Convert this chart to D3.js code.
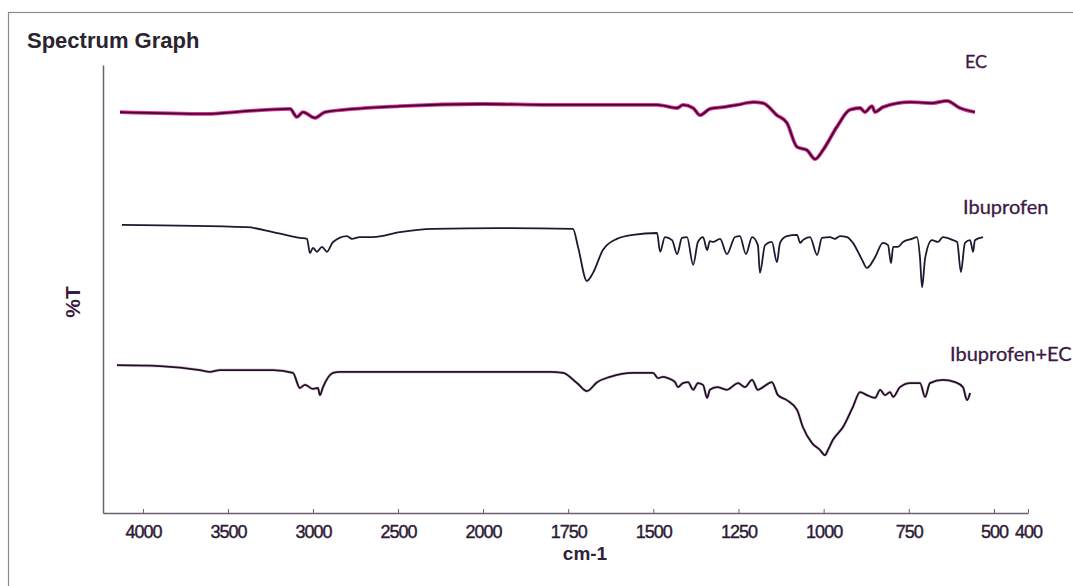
<!DOCTYPE html>
<html>
<head>
<meta charset="utf-8">
<script src="https://cdn.jsdelivr.net/npm/d3@7"></script>
<style>
  body { margin: 0; background: #ffffff; }
  svg { display: block; }
</style>
</head>
<body>
<div id="spectrum-chart"></div>
<script>
// wavenumber (cm-1) / %T values (traces are stacked, so %T is offset)
const ecData = [
  [4135, 89.5], [3624, 89.1], [3429, 89.6], [3135, 90.2], [3094, 88.4], [3059, 89.5],
  [2988, 88.2], [2929, 89.5], [2488, 90.8], [2000, 91.3], [1803, 91.1], [1489, 91.1],
  [1430, 90.4], [1413, 91.1], [1383, 90.4], [1363, 88.8], [1334, 90.2], [1295, 90.6],
  [1254, 91.1], [1207, 91.7], [1178, 91.5], [1137, 88.8], [1108, 87.1], [1078, 81.7],
  [1049, 81.0], [1025, 79.0], [1002, 81.0], [961, 86.2], [923, 90.0], [893, 90.4],
  [879, 89.5], [858, 90.8], [849, 89.5], [826, 90.6], [746, 91.7], [679, 91.5],
  [638, 92.0], [600, 90.4], [556, 89.5]
];

const ibuprofenData = [
  [4124, 64.3], [3388, 63.8], [3235, 62.7], [3077, 61.4], [3035, 61.2], [3018, 58.0],
  [3000, 59.2], [2977, 58.3], [2947, 59.4], [2918, 58.3], [2882, 60.5], [2800, 61.8],
  [2771, 61.2], [2724, 61.6], [2647, 61.6], [2488, 62.7], [2294, 63.4], [1950, 63.6],
  [1736, 63.4], [1721, 59.4], [1695, 51.8], [1677, 53.6], [1648, 58.7], [1607, 61.2],
  [1560, 62.1], [1489, 62.5], [1480, 58.3], [1466, 61.6], [1445, 60.9], [1430, 57.8],
  [1416, 61.4], [1401, 61.6], [1383, 55.4], [1369, 60.5], [1354, 61.6], [1342, 58.7],
  [1334, 60.7], [1325, 60.5], [1304, 61.2], [1284, 57.8], [1260, 61.6], [1246, 61.8],
  [1228, 57.8], [1210, 61.6], [1193, 59.8], [1187, 53.6], [1172, 59.8], [1152, 60.5],
  [1137, 56.0], [1128, 60.3], [1108, 61.8], [1078, 62.1], [1069, 60.3], [1061, 60.9],
  [1040, 61.6], [1019, 57.6], [1005, 61.4], [981, 61.6], [967, 61.2], [952, 61.8],
  [931, 61.6], [914, 60.3], [887, 56.5], [873, 54.7], [849, 57.1], [826, 60.3],
  [811, 59.8], [802, 55.8], [796, 59.4], [782, 59.4], [767, 60.5], [741, 61.2],
  [726, 61.6], [717, 56.9], [711, 50.4], [702, 56.9], [682, 60.9], [664, 60.5],
  [650, 61.6], [620, 60.9], [608, 60.5], [597, 53.8], [585, 60.3], [570, 60.9],
  [561, 58.3], [556, 60.9], [532, 61.6]
];

const mixData = [
  [4153, 33.0], [3900, 32.8], [3665, 31.9], [3606, 31.5], [3547, 31.9], [3235, 31.9],
  [3118, 31.3], [3077, 27.9], [3047, 28.6], [3000, 27.7], [2971, 27.9], [2959, 26.3],
  [2941, 28.1], [2882, 31.3], [2841, 31.5], [2488, 31.5], [2294, 31.5], [2000, 31.5],
  [1803, 31.5], [1765, 31.3], [1724, 29.0], [1695, 27.2], [1665, 29.2], [1627, 30.4],
  [1560, 31.3], [1501, 31.3], [1486, 30.1], [1472, 30.4], [1457, 30.1], [1436, 29.2],
  [1428, 28.1], [1413, 29.0], [1398, 29.2], [1383, 27.5], [1369, 29.0], [1354, 28.6],
  [1342, 25.7], [1334, 27.5], [1313, 28.1], [1284, 27.5], [1251, 29.0], [1231, 28.1],
  [1210, 29.7], [1193, 27.5], [1178, 28.1], [1152, 29.2], [1134, 26.3], [1108, 25.2],
  [1078, 23.0], [1061, 19.2], [1034, 15.6], [1011, 14.1], [996, 12.9], [987, 14.1],
  [973, 16.3], [943, 19.2], [914, 23.7], [893, 27.0], [873, 26.3], [849, 25.7],
  [834, 27.5], [820, 26.3], [805, 27.0], [796, 25.9], [776, 28.1], [746, 29.0],
  [717, 29.0], [702, 25.9], [688, 29.0], [650, 29.7], [614, 29.2], [591, 28.1],
  [579, 25.2], [570, 26.8]
];

const seriesNames = ["EC", "Ibuprofen", "Ibuprofen+EC"];
const xTicks = [4000, 3500, 3000, 2500, 2000, 1750, 1500, 1250, 1000, 750, 500, 400];

const width = 1073;
const height = 586;

const svg = d3
  .select("#spectrum-chart")
  .append("svg")
  .attr("width", width)
  .attr("height", height);

// outer frame
svg
  .append("rect")
  .attr("x", 8.5)
  .attr("y", 12.5)
  .attr("width", 1100)
  .attr("height", 600)
  .attr("fill", "none")
  .attr("stroke", "#8c8a8e")
  .attr("stroke-width", 1.2);

svg
  .append("text")
  .attr("x", 27)
  .attr("y", 48)
  .attr("font-family", "Liberation Sans, Arial, sans-serif")
  .attr("font-size", 22)
  .attr("font-weight", "bold")
  .attr("fill", "#2a2430")
  .text("Spectrum Graph");

// scale is split: 4000-2000 is half as wide per unit as 2000-400
const x = d3.scaleLinear().domain([4235, 2000, 400]).range([103, 483, 1028]);
const y = d3.scaleLinear().domain([0, 100]).range([513, 65]);

const xAxis = svg
  .append("g")
  .attr("transform", `translate(0,${y(0)})`)
  .call(
    d3
      .axisBottom(x)
      .tickValues(xTicks)
      .tickFormat(d3.format("d"))
      .tickSizeInner(-4)
      .tickSizeOuter(0)
      .tickPadding(12)
  );
xAxis.select(".domain").attr("stroke", "#6e5f73").attr("stroke-width", 1.5);
xAxis.selectAll(".tick line").attr("stroke", "#6e5f73");
xAxis
  .selectAll("text")
  .attr("font-family", "Liberation Sans, Arial, sans-serif")
  .attr("font-size", 18)
  .attr("letter-spacing", "-1px")
  .attr("fill", "#2c1a36")
  .attr("stroke", "#2c1a36")
  .attr("stroke-width", 0.4);

const yAxis = svg
  .append("g")
  .attr("transform", `translate(${x(4235)},0)`)
  .call(d3.axisLeft(y).tickValues([]).tickSizeOuter(0));
yAxis.select(".domain").attr("stroke", "#6e5f73").attr("stroke-width", 1.5);

svg
  .append("text")
  .attr("x", 585)
  .attr("y", 560)
  .attr("text-anchor", "middle")
  .attr("font-family", "Liberation Sans, Arial, sans-serif")
  .attr("font-size", 19)
  .attr("font-weight", "bold")
  .attr("fill", "#2f2236")
  .text("cm-1");

svg
  .append("text")
  .attr("transform", "translate(80,302)rotate(-90)")
  .attr("text-anchor", "middle")
  .attr("font-family", "Liberation Sans, Arial, sans-serif")
  .attr("font-size", 21)
  .attr("font-weight", "bold")
  .attr("fill", "#3a1d45")
  .text("%T");

const line = d3
  .line()
  .x((d) => x(d[0]))
  .y((d) => y(d[1]))
  .curve(d3.curveMonotoneX);

// EC: magenta halo with dark core
svg
  .append("path")
  .datum(ecData)
  .attr("d", line)
  .attr("fill", "none")
  .attr("stroke", "#e0309a")
  .attr("stroke-width", 3.8)
  .attr("stroke-linejoin", "round");
svg
  .append("path")
  .datum(ecData)
  .attr("d", line)
  .attr("fill", "none")
  .attr("stroke", "#3e0a2c")
  .attr("stroke-width", 1.8)
  .attr("stroke-linejoin", "round");

// Ibuprofen
svg
  .append("path")
  .datum(ibuprofenData)
  .attr("d", line)
  .attr("fill", "none")
  .attr("stroke", "#1e1830")
  .attr("stroke-width", 1.8)
  .attr("stroke-linejoin", "round");

// Ibuprofen+EC
svg
  .append("path")
  .datum(mixData)
  .attr("d", line)
  .attr("fill", "none")
  .attr("stroke", "#e7c6e4")
  .attr("stroke-width", 3)
  .attr("stroke-linejoin", "round");
svg
  .append("path")
  .datum(mixData)
  .attr("d", line)
  .attr("fill", "none")
  .attr("stroke", "#1c1320")
  .attr("stroke-width", 1.8)
  .attr("stroke-linejoin", "round");

// series labels
const labelPos = [
  { x: 965, y: 68, size: 18 },
  { x: 963, y: 214, size: 20 },
  { x: 950, y: 361, size: 20 }
];
svg
  .append("g")
  .selectAll("text")
  .data(seriesNames)
  .enter()
  .append("text")
  .attr("x", (d, i) => labelPos[i].x)
  .attr("y", (d, i) => labelPos[i].y)
  .attr("font-family", "Lato, Liberation Sans, sans-serif")
  .attr("font-size", (d, i) => labelPos[i].size)
  .attr("fill", "#3b1a45")
  .attr("stroke", "#3b1a45")
  .attr("stroke-width", 0.3)
  .text((d) => d);
</script>
</body>
</html>
